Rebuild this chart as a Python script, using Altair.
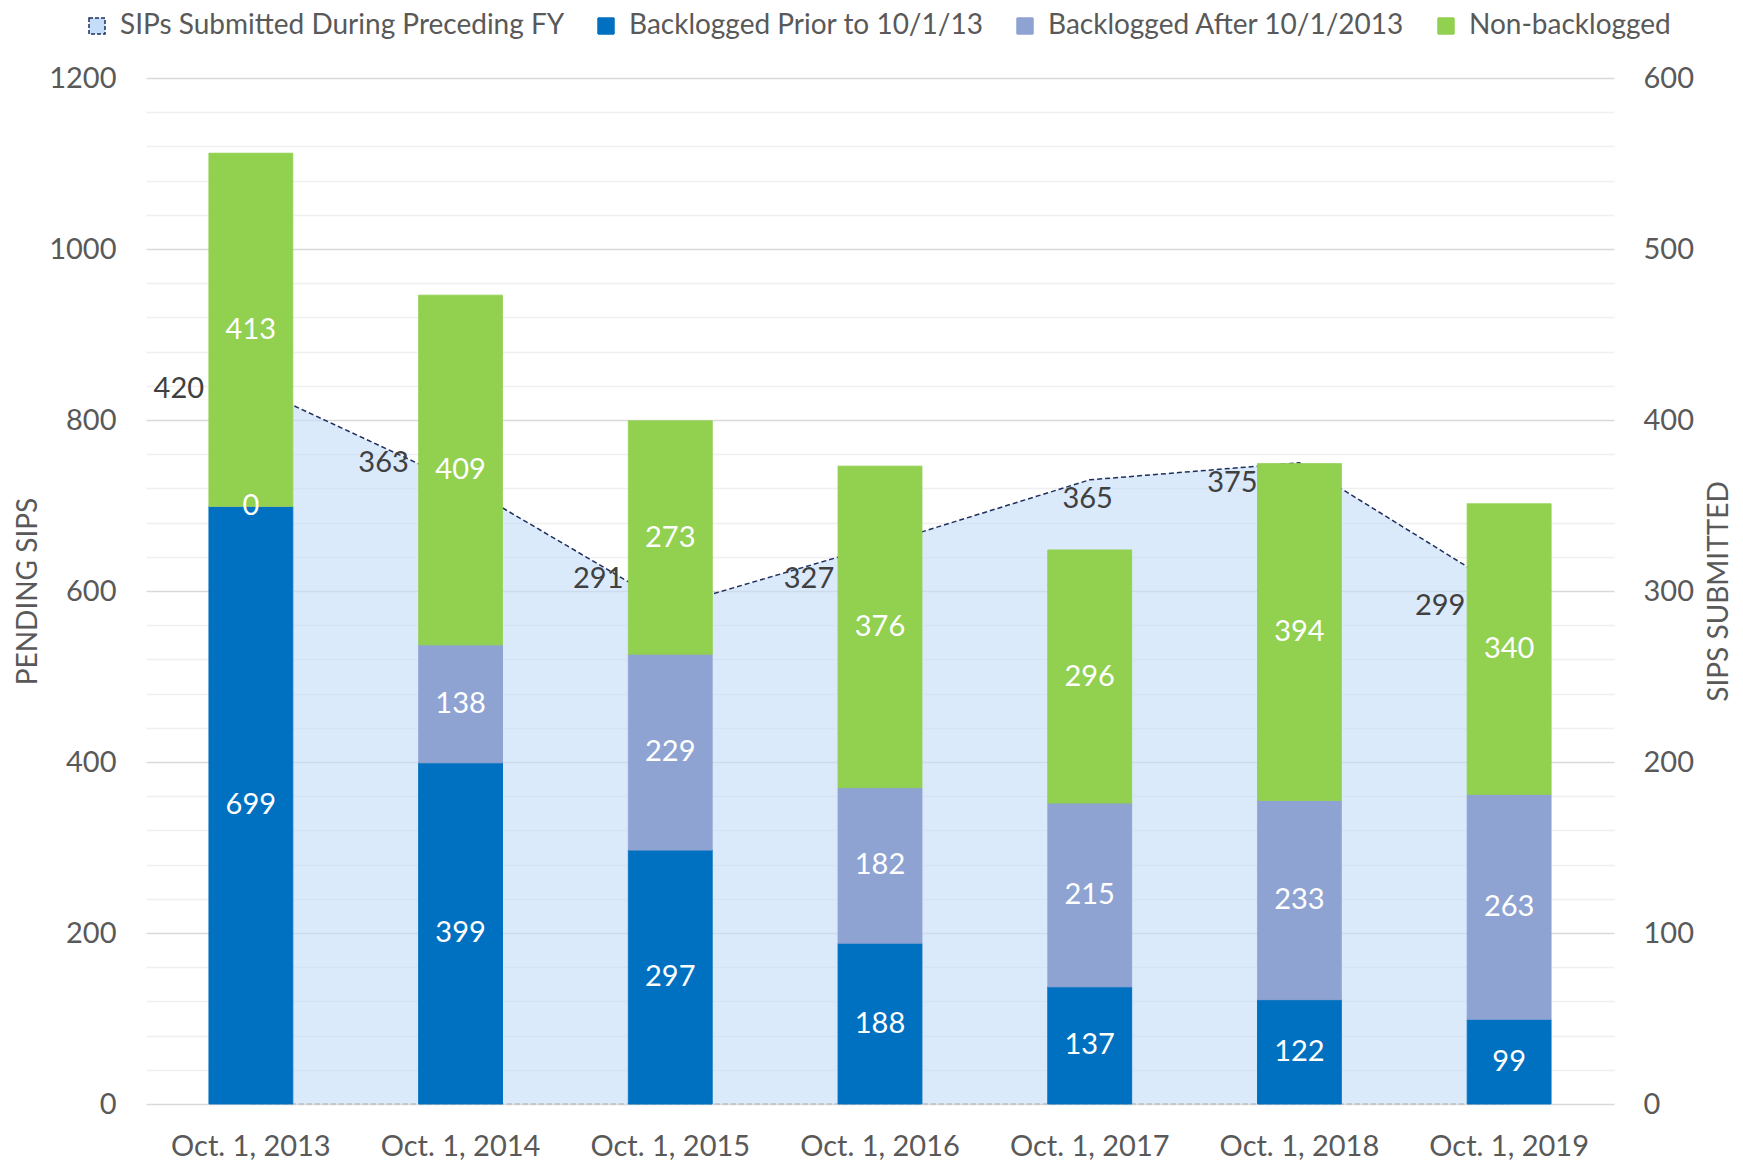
import altair as alt
import pandas as pd

categories = ["Oct. 1, 2013", "Oct. 1, 2014", "Oct. 1, 2015", "Oct. 1, 2016",
              "Oct. 1, 2017", "Oct. 1, 2018", "Oct. 1, 2019"]
backlogged_prior = [699, 399, 297, 188, 137, 122, 99]
backlogged_after = [0, 138, 229, 182, 215, 233, 263]
non_backlogged = [413, 409, 273, 376, 296, 394, 340]
sips_submitted = [420, 363, 291, 327, 365, 375, 299]

series_names = ["SIPs Submitted During Preceding FY", "Backlogged Prior to 10/1/13",
                "Backlogged After 10/1/2013", "Non-backlogged"]
fill_colors = ["#C4DDF9", "#0070C0", "#8EA3D2", "#92D050"]
stroke_colors = ["#1F2F5C", "#0070C0", "#8EA3D2", "#92D050"]
dashes = [[4, 2], [1, 0], [1, 0], [1, 0]]

# pixel offsets of the area value labels (style)
area_label_dx = [-72, -77, -72, -71, -2, -67, -69]
area_label_dy = [3, -20, -27, 34, 19, 20, 13]

FONT = "Lato"
GREY = "#595959"
FS = 29

# ---- tables ----
rows = []
for i, cat in enumerate(categories):
    start = 0
    for j, vals in enumerate([backlogged_prior, backlogged_after, non_backlogged]):
        v = vals[i]
        rows.append({"category": cat, "series": series_names[j + 1], "value": v,
                     "start": start, "end": start + v, "mid": start + v / 2})
        start += v
bar_df = pd.DataFrame(rows)
area_df = pd.DataFrame({"category": categories, "sips": sips_submitted,
                        "series": series_names[0]})

legend = alt.Legend(title=None, orient="none", legendX=-63, legendY=-66,
                    direction="horizontal", columns=4, symbolType="square",
                    symbolSize=256, symbolStrokeWidth=1.5, labelFontSize=28,
                    labelColor=GREY, labelFont=FONT, labelOffset=9,
                    columnPadding=27, labelLimit=800, padding=0)
color_enc = alt.Color("series:N", scale=alt.Scale(domain=series_names, range=fill_colors), legend=legend)
stroke_enc = alt.Stroke("series:N", scale=alt.Scale(domain=series_names, range=stroke_colors), legend=legend)
dash_enc = alt.StrokeDash("series:N", scale=alt.Scale(domain=series_names, range=dashes), legend=legend)

x_enc = alt.X("category:N", sort=categories,
              scale=alt.Scale(paddingInner=0, paddingOuter=0),
              axis=alt.Axis(title=None, labelAngle=0, ticks=False, domain=False, grid=False,
                            labelFontSize=FS, labelColor=GREY, labelFont=FONT, labelPadding=28))

left_axis = alt.Axis(orient="left", values=list(range(0, 1201, 40)), format="d",
                     labelExpr="datum.value % 200 === 0 ? datum.label : ''",
                     grid=True,
                     gridColor={"condition": {"test": "datum.value % 200 === 0", "value": "#D9D9D9"},
                                "value": "#F0F0F0"},
                     gridWidth=1.5, ticks=False, domain=False,
                     labelFontSize=FS, labelColor=GREY, labelFont=FONT, labelPadding=30,
                     title="PENDING SIPS", titleFontSize=28, titleColor=GREY, titleFont=FONT,
                     titleFontWeight="normal", titlePadding=6)
right_axis = alt.Axis(orient="right", values=list(range(0, 601, 100)), format="d",
                      grid=False, ticks=False, domain=False,
                      labelFontSize=FS, labelColor=GREY, labelFont=FONT, labelPadding=29,
                      title="SIPS SUBMITTED", titleFontSize=28, titleColor=GREY, titleFont=FONT,
                      titleFontWeight="normal", titlePadding=12, titleAngle=270,
                      titleBaseline="top")

left_scale = alt.Scale(domain=[0, 1200], nice=False, zero=True)
right_scale = alt.Scale(domain=[0, 600], nice=False, zero=True)

area = alt.Chart(area_df).mark_area(fillOpacity=0.62).encode(
    x=x_enc,
    y=alt.Y("sips:Q", scale=right_scale, axis=right_axis),
    color=color_enc,
)

top_line = alt.Chart(area_df).mark_line(color="#1F2F5C", strokeWidth=1.5, strokeDash=[5, 3]).encode(
    x=x_enc,
    y=alt.Y("sips:Q", scale=right_scale, axis=None),
)

base_line = alt.Chart(area_df).mark_line(color="#BFBFBF", strokeWidth=1.5, strokeDash=[5, 3]).encode(
    x=x_enc,
    y=alt.Y(datum=0, scale=right_scale, axis=None),
)

bars = alt.Chart(bar_df).mark_bar(width=alt.RelativeBandSize(0.4)).encode(
    x=x_enc,
    y=alt.Y("start:Q", scale=left_scale, axis=left_axis),
    y2="end:Q",
    color=color_enc, stroke=stroke_enc, strokeDash=dash_enc,
)

bar_text = alt.Chart(bar_df).mark_text(color="white", fontSize=FS, font=FONT, baseline="middle").encode(
    x=x_enc,
    y=alt.Y("mid:Q", scale=left_scale, axis=None),
    text="value:Q",
)

area_texts = []
for i, cat in enumerate(categories):
    area_texts.append(
        alt.Chart(area_df).transform_filter(alt.datum.category == cat)
        .mark_text(color="#404040", fontSize=FS, font=FONT, baseline="middle",
                   dx=area_label_dx[i], dy=area_label_dy[i])
        .encode(x=x_enc, y=alt.Y("sips:Q", scale=right_scale, axis=None), text="sips:Q")
    )

chart = alt.layer(area, top_line, base_line, bars, bar_text, *area_texts).resolve_scale(
    y="independent"
).properties(
    width=1468, height=1026,
    padding={"left": 138, "top": 70, "right": 121, "bottom": 60},
    autosize=alt.AutoSizeParams(type="none"),
).configure_view(stroke=None)

chart.save("out.html", embed_options={"renderer": "svg", "actions": False})
